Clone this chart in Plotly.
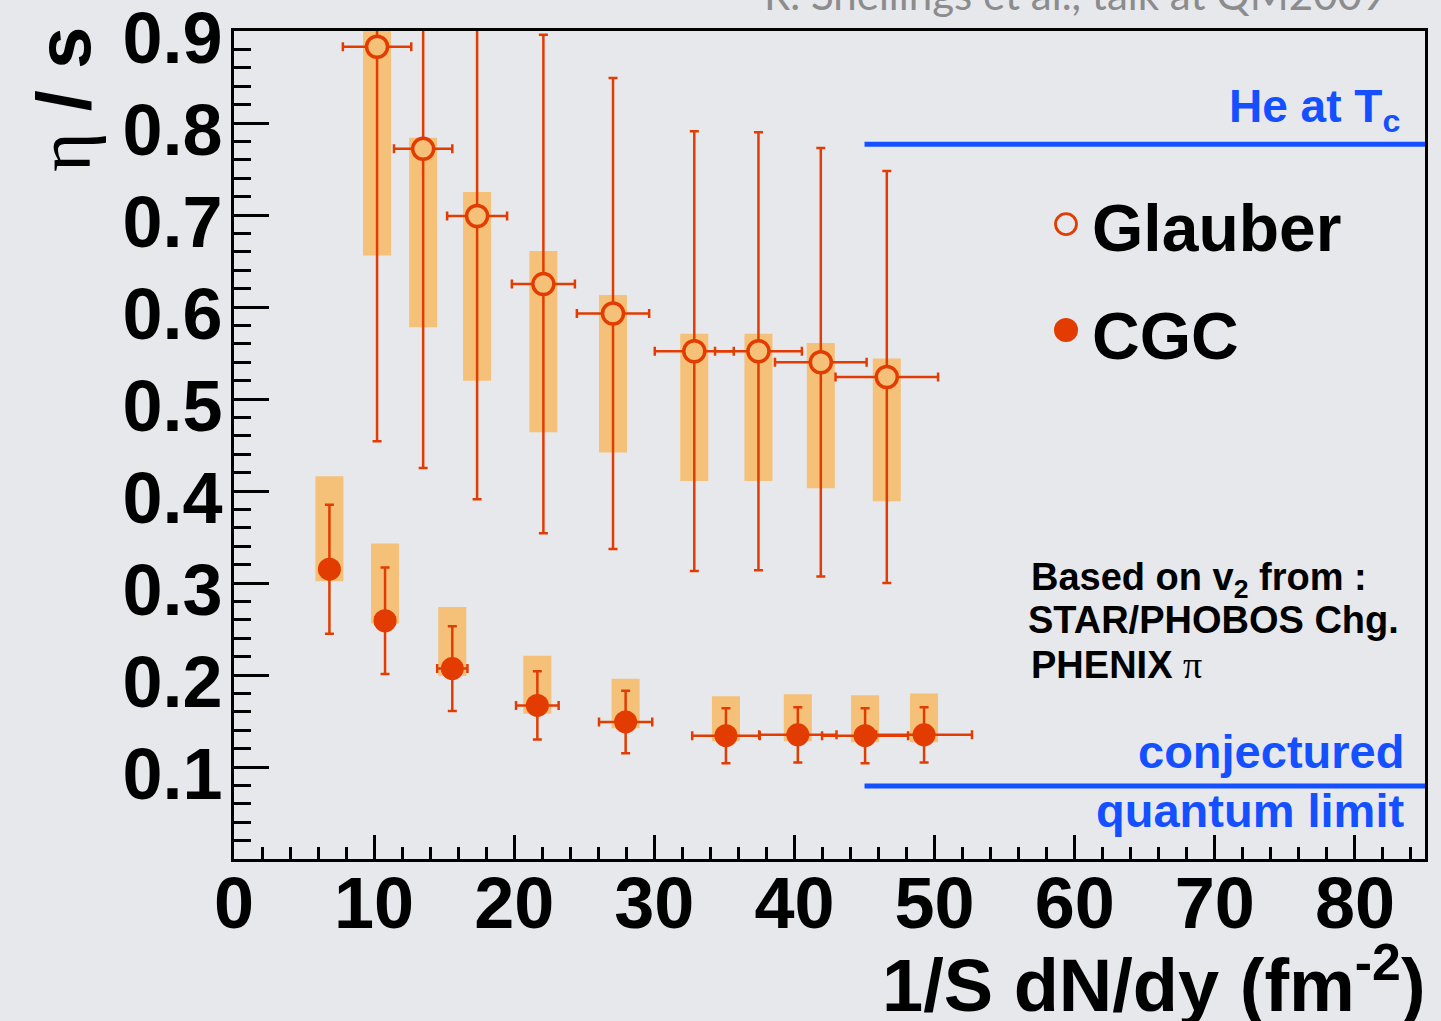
import plotly.graph_objects as go

# ---------------- data ----------------
glauber_x = [10.21, 13.50, 17.35, 22.08, 27.05, 32.85, 37.43, 41.88, 46.59]
glauber_y = [0.883, 0.772, 0.699, 0.625, 0.593, 0.552, 0.552, 0.540, 0.524]
glauber_xerr = [2.44, 2.08, 2.14, 2.25, 2.58, 2.82, 3.10, 3.27, 3.66]
glauber_err = [0.429, 0.347, 0.308, 0.271, 0.256, 0.239, 0.238, 0.233, 0.224]
glauber_sys_lo = [0.656, 0.578, 0.520, 0.464, 0.442, 0.411, 0.411, 0.403, 0.389]
glauber_sys_hi = [0.920, 0.784, 0.725, 0.661, 0.613, 0.571, 0.571, 0.561, 0.544]

cgc_x = [6.81, 10.78, 15.58, 21.65, 27.95, 35.11, 40.24, 45.04, 49.25]
cgc_y = [0.315, 0.259, 0.207, 0.167, 0.149, 0.134, 0.135, 0.134, 0.135]
cgc_xerr = [0.40, 0.70, 1.08, 1.52, 1.90, 2.41, 2.76, 3.07, 3.42]
cgc_err = [0.070, 0.058, 0.046, 0.037, 0.034, 0.030, 0.030, 0.030, 0.030]
cgc_sys_lo = [0.302, 0.256, 0.199, 0.158, 0.142, 0.128, 0.128, 0.127, 0.127]
cgc_sys_hi = [0.416, 0.343, 0.274, 0.221, 0.196, 0.177, 0.179, 0.178, 0.180]

he_tc_value = 0.777
quantum_limit_value = 0.0793
ref_line_x = [45.0, 85.0]

x_tick_vals = [0, 10, 20, 30, 40, 50, 60, 70, 80]
x_tick_text = ["0", "10", "20", "30", "40", "50", "60", "70", "80"]
y_tick_vals = [0.1, 0.2, 0.3, 0.4, 0.5, 0.6, 0.7, 0.8, 0.9]
y_tick_text = ["0.1", "0.2", "0.3", "0.4", "0.5", "0.6", "0.7", "0.8", "0.9"]

# ---------------- style / layout constants ----------------
W, H = 1441, 1021
ML, MR, MT, MB = 234, 16, 31, 162
PW, PH = W - ML - MR, H - MT - MB
XMAX, YMAX = 85.0, 0.9

RED = "#E23C02"
BOX = "#F5C078"
BLUE = "#1450FF"
BG = "#E6E8EC"
FONT = "Liberation Sans"


def pap(xp, yp):
    return (xp - ML) / PW, (H - MB - yp) / PH


def dat(xp, yp):
    return (xp - ML) / PW * XMAX, (H - MB - yp) / PH * YMAX


fig = go.Figure()

# systematic boxes
fig.add_trace(go.Bar(
    x=glauber_x, y=[h - l for h, l in zip(glauber_sys_hi, glauber_sys_lo)], base=glauber_sys_lo,
    width=2.0, marker=dict(color=BOX, line=dict(width=0)), showlegend=False, hoverinfo="skip"))
fig.add_trace(go.Bar(
    x=cgc_x, y=[h - l for h, l in zip(cgc_sys_hi, cgc_sys_lo)], base=cgc_sys_lo,
    width=2.0, marker=dict(color=BOX, line=dict(width=0)), showlegend=False, hoverinfo="skip"))

# reference lines
fig.add_trace(go.Scatter(x=ref_line_x, y=[he_tc_value] * 2, mode="lines",
                         line=dict(color=BLUE, width=5), showlegend=False, hoverinfo="skip"))
fig.add_trace(go.Scatter(x=ref_line_x, y=[quantum_limit_value] * 2, mode="lines",
                         line=dict(color=BLUE, width=5), showlegend=False, hoverinfo="skip"))

err_style = dict(type="data", color=RED, thickness=2.5, width=4.5)
fig.add_trace(go.Scatter(
    x=glauber_x, y=glauber_y, mode="markers", name="Glauber",
    error_y=dict(array=glauber_err, **err_style),
    error_x=dict(array=glauber_xerr, **err_style),
    marker=dict(symbol="circle", size=21, color=BOX, line=dict(color=RED, width=3.5)),
    showlegend=False))
fig.add_trace(go.Scatter(
    x=cgc_x, y=cgc_y, mode="markers", name="CGC",
    error_y=dict(array=cgc_err, **err_style),
    error_x=dict(array=cgc_xerr, **err_style),
    marker=dict(symbol="circle", size=23, color=RED, line=dict(width=0)),
    showlegend=False))

# hand-made legend markers
lx, ly1 = dat(1066, 224)
_, ly2 = dat(1066, 330)
fig.add_trace(go.Scatter(x=[lx], y=[ly1], mode="markers", showlegend=False, hoverinfo="skip",
                         marker=dict(symbol="circle", size=21, color="rgba(0,0,0,0)",
                                     line=dict(color=RED, width=2.8))))
fig.add_trace(go.Scatter(x=[lx], y=[ly2], mode="markers", showlegend=False, hoverinfo="skip",
                         marker=dict(symbol="circle", size=24, color=RED, line=dict(width=0))))

annotations = []


def add_text(text, xp, yp, size, color="black", xanchor="left", yanchor="middle", angle=0, family=FONT):
    x, y = pap(xp, yp)
    annotations.append(dict(text=text, x=x, y=y, xref="paper", yref="paper", showarrow=False,
                            xanchor=xanchor, yanchor=yanchor, textangle=angle,
                            font=dict(family=family, size=size, color=color)))


add_text("<b>He at T<sub>c</sub></b>", 1402, 110, 46, BLUE, xanchor="right")
add_text("<b>Glauber</b>", 1090, 228, 66)
add_text("<b>CGC</b>", 1090, 336, 66)
add_text("<b>Based on v<sub>2</sub> from :</b>", 1029, 580, 38)
add_text("<b>STAR/PHOBOS Chg.</b>", 1026, 620, 38)
add_text("<b>PHENIX </b><span style=\"font-family:'Liberation Serif'\">π</span>", 1029, 665, 38)
add_text("<b>conjectured</b>", 1406, 751, 47, BLUE, xanchor="right")
add_text("<b>quantum limit</b>", 1406, 810, 47, BLUE, xanchor="right")
add_text("<b>1/S dN/dy (fm<sup>-2</sup>)</b>", 1428, 980, 74, xanchor="right")
add_text("<span style=\"font-family:'Liberation Serif'\">η</span><b> / s</b>", 63, 100, 76,
         xanchor="center", angle=-90)
add_text("R. Snellings et al., talk at QM2009", 1388, -6, 42, "#8C8C8C", xanchor="right",
         family="Lato")

axis_common = dict(showgrid=False, zeroline=False, showline=True, linecolor="black", linewidth=3,
                   mirror=True, ticks="inside", tickcolor="black", tickwidth=2.5,
                   ticklabeloverflow="allow", automargin=False,
                   tickfont=dict(family=FONT, size=72, color="black", weight="bold"))

fig.update_layout(
    width=W, height=H,
    margin=dict(l=ML, r=MR, t=MT, b=MB, pad=0, autoexpand=False),
    paper_bgcolor=BG, plot_bgcolor=BG,
    barmode="overlay",
    showlegend=False,
    annotations=annotations,
    xaxis=dict(range=[0, XMAX], tickmode="array", tickvals=x_tick_vals, ticktext=x_tick_text,
               ticklen=24, ticklabelstandoff=-20,
               minor=dict(ticks="inside", ticklen=12, tickwidth=2.5, tickcolor="black",
                          dtick=2, tick0=0, showgrid=False),
               **axis_common),
    yaxis=dict(range=[0, YMAX + 0.0001], tickmode="array", tickvals=y_tick_vals, ticktext=y_tick_text,
               ticklen=35, ticklabelstandoff=-6, ticklabelshift=7,
               minor=dict(ticks="inside", ticklen=17, tickwidth=2.5, tickcolor="black",
                          dtick=0.02, tick0=0, showgrid=False),
               **axis_common),
)

fig.write_html("out.html")
